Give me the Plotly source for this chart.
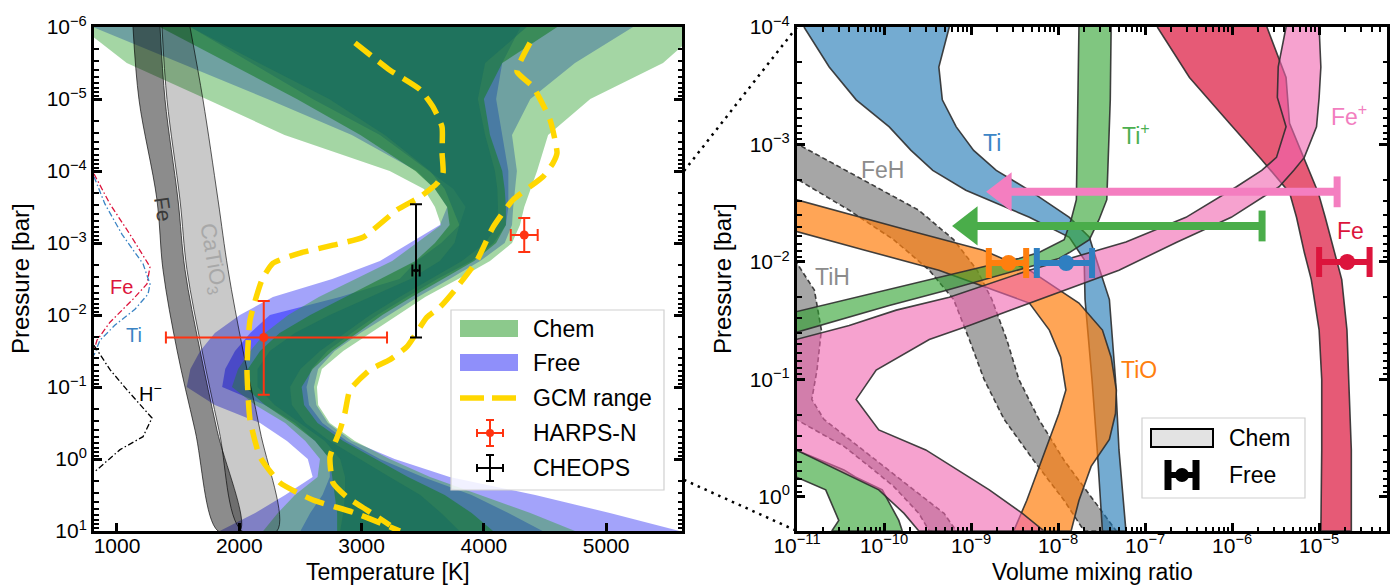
import math
import plotly.graph_objects as go

W, H = 1397, 587
TOP, BOT = 27, 531
FONT = "Liberation Sans, Arial, Helvetica, sans-serif"

# ======================= LEFT PANEL DATA (T in K, log10 P in bar) =======================
logp_grid = [-6, -5.5, -5, -4.5, -4, -3.75, -3.5, -3.25, -3, -2.75, -2.5, -2.25, -2,
             -1.75, -1.5, -1.25, -1, -0.75, -0.5, -0.25, 0, 0.25, 0.5, 0.75, 1]

chem3_lo = [700, 1080, 1730, 2370, 3230, 3510, 3600, 3650, 3450, 3250, 2950, 2650, 2400,
            2210, 2090, 1990, 1940, 2130, 2375, 2540, 2660, 2640, 2455, 2315, 2195]
chem3_hi = [5800, 5465, 4870, 4525, 4435, 4380, 4330, 4295, 4230, 4050, 3790, 3520, 3300,
            3070, 2850, 2675, 2635, 2645, 2740, 2945, 3230, 3560, 3970, 4380, 4745]
chem2_lo = [1350, 1910, 2470, 2990, 3440, 3600, 3700, 3720, 3600, 3440, 3150, 2865, 2580,
            2330, 2170, 2070, 2045, 2210, 2430, 2620, 2740, 2760, 2780, 2800, 2800]
chem2_hi = [4600, 4150, 4000, 4050, 4150, 4170, 4180, 4180, 4100, 3920, 3660, 3410, 3170,
            2960, 2760, 2600, 2510, 2530, 2640, 2850, 3110, 3380, 3680, 3900, 4075]
chem1_lo = [1600, 2160, 2735, 3190, 3560, 3680, 3740, 3800, 3760, 3640, 3400, 3070, 2740,
            2455, 2250, 2150, 2150, 2290, 2500, 2700, 2825, 2865, 2865, 2850, 2825]
chem1_hi = [4350, 4010, 3950, 4010, 4090, 4110, 4115, 4110, 4010, 3820, 3560, 3310, 3070,
            2865, 2660, 2500, 2415, 2430, 2540, 2740, 2990, 3230, 3480, 3650, 3800]
free3_lo = [800, 1510, 2230, 2920, 3450, 3600, 3700, 3640, 3400, 3150, 2760, 2275, 2005,
            1800, 1680, 1600, 1570, 1800, 2170, 2390, 2560, 2600, 2375, 2130, 1840]
free3_hi = [5220, 4745, 4380, 4230, 4270, 4255, 4240, 4230, 4170, 3970, 3720, 3460, 3230,
            2990, 2780, 2645, 2610, 2630, 2725, 2920, 3270, 3720, 4420, 5030, 5600]
free2_lo = [1600, 2100, 2600, 3150, 3550, 3750, 3850, 3800, 3650, 3450, 3310, 2823, 2250,
            2090, 1965, 1885, 1860, 2210, 2455, 2620, 2740, 2740, 2680, 2580, 2500]
free2_hi = [4300, 4150, 4100, 4150, 4200, 4200, 4200, 4180, 4080, 3900, 3620, 3370, 3130,
            2920, 2720, 2590, 2550, 2570, 2680, 2880, 3150, 3500, 3900, 4200, 4480]

gcm_a_T = [2946, 3232, 3478, 3584, 3658, 3658, 3666, 3617, 3478, 3290, 3012, 2766, 2496,
           2276, 2186, 2088, 2063, 2088, 2169, 2333, 2603, 2930, 3314]
gcm_a_logp = [-5.78, -5.40, -5.13, -4.89, -4.61, -4.25, -3.97, -3.83, -3.64, -3.46, -3.08,
              -2.97, -2.86, -2.72, -2.49, -1.93, -1.24, -0.54, -0.03, 0.33, 0.57, 0.74, 1.0]
gcm_b_T = [4377, 4271, 4402, 4541, 4598, 4565, 4483, 4238, 4075, 3944, 3764, 3641, 3535,
           3371, 3232, 3069, 2905, 2864, 2823, 2742, 2766, 2881, 3044, 3232]
gcm_b_logp = [-5.78, -5.38, -5.17, -4.71, -4.25, -4.11, -3.92, -3.60, -3.22, -2.76, -2.35,
              -2.11, -1.97, -1.56, -1.38, -1.24, -0.96, -0.64, -0.40, -0.03, 0.33, 0.53, 0.71, 0.92]

cond_logp = [-6, -4.99, -3.60, -2.63, -1.51, -0.40, 1.0]
fe_cond_lo = [1131, 1180, 1327, 1376, 1491, 1638, 1826]
fe_cond_hi = [1352, 1393, 1499, 1556, 1679, 1818, 2006]
catio3_lo = [1368, 1409, 1515, 1572, 1695, 1834, 2022]
catio3_hi = [1597, 1703, 1826, 1908, 2030, 2169, 2308]

cf_fe_T = [812, 943, 1106, 1270, 1245, 1131, 943, 836, 812]
cf_fe_logp = [-3.96, -3.54, -3.12, -2.67, -2.43, -2.22, -1.90, -1.65, -1.51]
cf_ti_T = [812, 902, 1041, 1213, 1270, 1254, 1147, 984, 861, 812]
cf_ti_logp = [-3.92, -3.54, -3.12, -2.71, -2.43, -2.29, -2.08, -1.86, -1.65, -1.44]
cf_hm_T = [812, 943, 1082, 1286, 1213, 1025, 836, 812]
cf_hm_logp = [-1.58, -1.24, -0.96, -0.57, -0.31, -0.13, 0.15, 0.18]

harps_T = [2200, 4330]
harps_T_minus = [800, 110]
harps_T_plus = [1008, 110]
harps_P = [2.05e-2, 7.75e-4]
harps_P_low = [6.4e-3, 4.5e-4]
harps_P_high = [0.128, 1.33e-3]
cheops_T = [3445]
cheops_T_err = [30]
cheops_P = [2.4e-3]
cheops_P_low = [2.9e-4]
cheops_P_high = [2.05e-2]

left_xticks = [1000, 2000, 3000, 4000, 5000]
left_yticks = [1e-6, 1e-5, 1e-4, 1e-3, 1e-2, 1e-1, 1e0, 1e1]
left_yticklabels = ["10<sup>−6</sup>", "10<sup>−5</sup>", "10<sup>−4</sup>", "10<sup>−3</sup>",
                    "10<sup>−2</sup>", "10<sup>−1</sup>", "10<sup>0</sup>", "10<sup>1</sup>"]

# ======================= RIGHT PANEL DATA (log10 VMR, log10 P) =======================
ti_logp = [-4.0, -3.66, -3.38, -3.15, -2.95, -2.78, -2.61, -2.38, -2.21, -2.02, -1.68, -1.0, -0.40, 0.29]
ti_lo = [-10.92, -10.63, -10.32, -9.94, -9.69, -9.44, -9.06, -8.33, -7.87, -7.70, -7.69, -7.61, -7.55, -7.49]
ti_hi = [-9.25, -9.37, -9.33, -9.17, -8.97, -8.71, -8.33, -7.87, -7.64, -7.56, -7.41, -7.34, -7.30, -7.22]

tip_logp = [-4.0, -3.38, -2.53, -2.36, -2.19, -2.08, -2.03, -1.96, -1.85, -1.76, -1.63, -1.57,
            -1.40, -1.29, -0.49, -0.40, -0.23, -0.17, -0.06, 0.20, 0.29]
tip_lo = [-7.76, -7.77, -7.79, -7.85, -7.93, -8.22, -8.45, -8.86, -9.47, -9.94, -10.69, -11.01,
          -12, -12, -12, -12, -12, -11.01, -10.67, -10.52, -10.60]
tip_hi = [-7.39, -7.40, -7.44, -7.53, -7.64, -7.87, -7.99, -8.33, -8.86, -9.28, -9.94, -10.23,
          -11.01, -12, -12, -11.01, -10.46, -10.33, -10.02, -9.83, -9.79]

fe_logp = [-4.0, -3.57, -3.18, -2.87, -2.59, -2.38, -2.08, -1.85, -1.42, -1.0, -0.40, 0.29]
fe_lo = [-6.86, -6.49, -6.03, -5.66, -5.34, -5.26, -5.17, -5.09, -5.0, -4.97, -4.97, -4.98]
fe_hi = [-5.60, -5.38, -5.34, -5.17, -5.01, -4.93, -4.82, -4.74, -4.68, -4.66, -4.63, -4.63]

fep_logp = [-4.0, -3.66, -3.40, -3.15, -2.89, -2.78, -2.64, -2.38, -2.17, -1.93, -1.70, -1.59,
            -1.46, -1.34, -1.08, -0.83, -0.57, -0.40, -0.06, 0.14, 0.29]
fep_lo = [-5.38, -5.47, -5.48, -5.38, -5.49, -5.66, -5.95, -6.53, -7.22, -8.33, -9.25, -9.86,
          -10.40, -11.01, -12, -12, -12, -11.01, -10.06, -9.77, -9.60]
fep_hi = [-5.0, -4.98, -5.0, -5.03, -5.17, -5.29, -5.46, -6.01, -6.63, -7.30, -8.15, -8.55,
          -9.02, -9.48, -10.09, -10.32, -10.06, -9.52, -8.79, -8.41, -8.16]

tio_logp = [-2.53, -2.26, -2.10, -1.93, -1.65, -1.42, -1.19, -0.91, -0.71, -0.49, -0.26, 0.03, 0.29]
tio_lo = [-12, -11.01, -10.22, -9.37, -8.33, -8.10, -7.97, -7.91, -7.99, -8.10, -8.22, -8.36, -8.51]
tio_hi = [-11.01, -9.67, -8.86, -8.33, -7.76, -7.49, -7.39, -7.33, -7.34, -7.41, -7.62, -7.76, -7.85]

feh_logp = [-3.01, -2.71, -2.44, -2.19, -1.93, -1.68, -1.34, -1.0, -0.66, -0.31, 0.03, 0.29]
feh_lo = [-12, -11.01, -10.40, -9.89, -9.48, -9.20, -9.02, -8.85, -8.62, -8.28, -7.93, -7.70]
feh_hi = [-11.01, -10.26, -9.60, -9.20, -8.93, -8.76, -8.59, -8.45, -8.22, -7.93, -7.59, -7.33]

tih_logp = [-2.0, -1.76, -1.42, -1.08, -0.83, -0.66, -0.43, -0.26, -0.09, 0.14, 0.29]
tih_lo = [-12, -12, -12, -12, -12, -11.01, -10.46, -10.17, -9.89, -9.60, -9.48]
tih_hi = [-11.01, -10.80, -10.72, -10.77, -10.83, -10.69, -10.29, -10.0, -9.71, -9.31, -9.17]

free_species = ["TiO", "Ti", "Fe"]
free_vmr = [2.7e-9, 1.24e-8, 2.1e-5]
free_vmr_low = [1.6e-9, 5.7e-9, 1.0e-5]
free_vmr_high = [4.3e-9, 2.46e-8, 3.8e-5]
free_P = [1.02e-2, 1.02e-2, 1.0e-2]
free_colors = ["#ff7f0e", "#2f7fc1", "#dc143c"]

limit_species = ["Ti+", "Fe+"]
limit_vmr_upper = [2.21e-6, 1.61e-5]
limit_vmr_tip = [6.05e-10, 1.49e-9]
limit_P = [4.94e-3, 2.53e-3]
limit_colors = ["#4aad4a", "#f47ec0"]

right_xticks = [1e-11, 1e-10, 1e-9, 1e-8, 1e-7, 1e-6, 1e-5]
right_xticklabels = ["10<sup>−11</sup>", "10<sup>−10</sup>", "10<sup>−9</sup>", "10<sup>−8</sup>",
                     "10<sup>−7</sup>", "10<sup>−6</sup>", "10<sup>−5</sup>"]
right_yticks = [1e-4, 1e-3, 1e-2, 1e-1, 1e0]
right_yticklabels = ["10<sup>−4</sup>", "10<sup>−3</sup>", "10<sup>−2</sup>", "10<sup>−1</sup>", "10<sup>0</sup>"]

LEFT_X_RANGE = [812, 5620]
LEFT_LOGP_RANGE = [1, -6]
RIGHT_LOGX_RANGE = [-11, -4.22]
RIGHT_LOGP_RANGE = [0.29, -4]

# ======================= helpers =======================
def X(px):
    return px / W


def Y(py):
    return 1 - (py - TOP) / (BOT - TOP)


def pw(vals):
    return [10 ** v for v in vals]


fig = go.Figure()


def add_band(lo, hi, logp, fill, xa, ya, line=None, log_x=False):
    xs_lo = pw(lo) if log_x else list(lo)
    xs_hi = pw(hi) if log_x else list(hi)
    ys = pw(logp)
    fig.add_trace(go.Scatter(
        x=xs_lo + xs_hi[::-1], y=ys + ys[::-1], mode="lines", fill="toself",
        fillcolor=fill, line=line or dict(width=0, color="rgba(0,0,0,0)"),
        hoverinfo="skip", xaxis=xa, yaxis=ya))


# ---------------- left panel ----------------
add_band(free3_lo, free3_hi, logp_grid, "rgba(50,50,245,0.45)", "x", "y")
add_band(free2_lo, free2_hi, logp_grid, "rgba(50,50,255,0.6)", "x", "y")
add_band(chem3_lo, chem3_hi, logp_grid, "rgba(44,160,44,0.43)", "x", "y")
add_band(chem2_lo, chem2_hi, logp_grid, "rgba(23,125,42,0.6)", "x", "y")
add_band(chem1_lo, chem1_hi, logp_grid, "rgba(20,105,95,0.5)", "x", "y")

add_band(fe_cond_lo, fe_cond_hi, cond_logp, "rgba(0,0,0,0.45)", "x", "y",
         line=dict(width=0.8, color="rgba(0,0,0,0.8)", shape="spline"))
add_band(catio3_lo, catio3_hi, cond_logp, "rgba(0,0,0,0.21)", "x", "y",
         line=dict(width=0.8, color="rgba(0,0,0,0.8)", shape="spline"))

for T, lp, col in [(cf_fe_T, cf_fe_logp, "#dc143c"), (cf_ti_T, cf_ti_logp, "#3b84c4"),
                   (cf_hm_T, cf_hm_logp, "black")]:
    fig.add_trace(go.Scatter(x=T, y=pw(lp), mode="lines", hoverinfo="skip",
                             line=dict(color=col, width=1.3, dash="6px,2.5px,1.5px,2.5px"),
                             xaxis="x", yaxis="y"))

for T, lp in [(gcm_a_T, gcm_a_logp), (gcm_b_T, gcm_b_logp)]:
    fig.add_trace(go.Scatter(x=T, y=pw(lp), mode="lines", hoverinfo="skip",
                             line=dict(color="#ffd700", width=5.5, dash="20px,10px",
                                       shape="spline", smoothing=0.5),
                             xaxis="x", yaxis="y"))

fig.add_trace(go.Scatter(
    x=harps_T, y=harps_P, mode="markers", hoverinfo="skip",
    marker=dict(color="#ff3311", size=9),
    error_x=dict(type="data", symmetric=False, array=harps_T_plus, arrayminus=harps_T_minus,
                 color="#ff3311", thickness=2, width=6),
    error_y=dict(type="data", symmetric=False,
                 array=[h - p for h, p in zip(harps_P_high, harps_P)],
                 arrayminus=[p - l for p, l in zip(harps_P, harps_P_low)],
                 color="#ff3311", thickness=2, width=6),
    xaxis="x", yaxis="y"))
fig.add_trace(go.Scatter(
    x=cheops_T, y=cheops_P, mode="markers", hoverinfo="skip",
    marker=dict(color="black", size=4),
    error_x=dict(type="data", array=cheops_T_err, color="black", thickness=2, width=6),
    error_y=dict(type="data", symmetric=False,
                 array=[h - p for h, p in zip(cheops_P_high, cheops_P)],
                 arrayminus=[p - l for p, l in zip(cheops_P, cheops_P_low)],
                 color="black", thickness=2, width=6),
    xaxis="x", yaxis="y"))

# ---------------- right panel ----------------
EDGE = dict(width=1.6, color="rgba(45,45,45,0.9)")
EDGE_D = dict(width=1.6, color="rgba(45,45,45,0.9)", dash="5px,3px")
add_band(feh_lo, feh_hi, feh_logp, "rgba(128,128,128,0.7)", "x2", "y2", line=EDGE_D, log_x=True)
add_band(tih_lo, tih_hi, tih_logp, "rgba(128,128,128,0.7)", "x2", "y2", line=EDGE_D, log_x=True)
add_band(ti_lo, ti_hi, ti_logp, "rgba(31,119,180,0.62)", "x2", "y2", line=EDGE, log_x=True)
add_band(tio_lo, tio_hi, tio_logp, "rgba(255,127,14,0.7)", "x2", "y2", line=EDGE, log_x=True)
add_band(tip_lo, tip_hi, tip_logp, "rgba(44,160,44,0.6)", "x2", "y2", line=EDGE, log_x=True)
add_band(fe_lo, fe_hi, fe_logp, "rgba(220,20,60,0.7)", "x2", "y2", line=EDGE, log_x=True)
add_band(fep_lo, fep_hi, fep_logp, "rgba(240,100,175,0.6)", "x2", "y2", line=EDGE, log_x=True)

for v, lo, hi, p, c in zip(free_vmr, free_vmr_low, free_vmr_high, free_P, free_colors):
    fig.add_trace(go.Scatter(
        x=[v], y=[p], mode="markers", hoverinfo="skip", marker=dict(color=c, size=16),
        error_x=dict(type="data", symmetric=False, array=[hi - v], arrayminus=[v - lo],
                     color=c, thickness=6, width=15),
        xaxis="x2", yaxis="y2"))

PPD = (1387 - 797) / (RIGHT_LOGX_RANGE[1] - RIGHT_LOGX_RANGE[0])  # px per decade
HEAD = 34
for up, tip, p, c in zip(limit_vmr_upper, limit_vmr_tip, limit_P, limit_colors):
    head_c = 10 ** (math.log10(tip) + (HEAD / 2) / PPD)
    fig.add_trace(go.Scatter(x=[up, head_c], y=[p, p], mode="lines", hoverinfo="skip",
                             line=dict(color=c, width=8), xaxis="x2", yaxis="y2"))
    fig.add_trace(go.Scatter(x=[head_c], y=[p], mode="markers", hoverinfo="skip",
                             marker=dict(symbol="triangle-left", size=HEAD, color=c,
                                         line=dict(width=0)),
                             xaxis="x2", yaxis="y2"))
    fig.add_trace(go.Scatter(x=[up], y=[p], mode="markers", hoverinfo="skip",
                             marker=dict(symbol="line-ns-open", size=22, color=c,
                                         line=dict(width=7, color=c)),
                             xaxis="x2", yaxis="y2"))

# ======================= axes =======================
AX = dict(showgrid=False, zeroline=False, showline=True, linewidth=3, linecolor="black",
          ticks="inside", ticklen=8, tickwidth=2.5, tickcolor="black", automargin=False,
          tickfont=dict(size=21, family=FONT, color="black"))
MINOR = dict(ticks="inside", ticklen=4.5, tickwidth=1.5, tickcolor="black", showgrid=False)

left_minor = [m * 10.0 ** e for e in range(-6, 1) for m in range(2, 10)]
rx_minor = [m * 10.0 ** e for e in range(-11, -4) for m in range(2, 10)]
ry_minor = [m * 10.0 ** e for e in range(-4, 1) for m in range(2, 10)]

fig.update_layout(
    xaxis=dict(AX, domain=[X(94), X(682)], range=LEFT_X_RANGE, tickvals=left_xticks,
               mirror=True, anchor="y", ticklabelstandoff=-6),
    yaxis=dict(AX, type="log", domain=[0, 1], range=LEFT_LOGP_RANGE, tickvals=left_yticks,
               ticktext=left_yticklabels, mirror="allticks", anchor="x",
               minor=dict(MINOR, tickvals=left_minor)),
    xaxis2=dict(AX, type="log", domain=[X(797), X(1387)], range=RIGHT_LOGX_RANGE,
                tickvals=right_xticks, ticktext=right_xticklabels, mirror="allticks",
                anchor="y2", minor=dict(MINOR, tickvals=rx_minor), ticklabelstandoff=-6),
    yaxis2=dict(AX, type="log", domain=[0, 1], range=RIGHT_LOGP_RANGE, tickvals=right_yticks,
                ticktext=right_yticklabels, mirror="allticks", anchor="x2",
                minor=dict(MINOR, tickvals=ry_minor)),
    width=W, height=H, margin=dict(l=0, r=0, t=TOP, b=H - BOT, autoexpand=False),
    paper_bgcolor="white", plot_bgcolor="white", showlegend=False,
    font=dict(family=FONT, size=22, color="black"),
)

# ======================= shapes (legends, zoom lines) =======================
shapes = []


def left_py(P):
    lp = math.log10(P)
    return TOP + (lp - LEFT_LOGP_RANGE[1]) / (LEFT_LOGP_RANGE[0] - LEFT_LOGP_RANGE[1]) * (BOT - TOP)


zoom_top_P = 10 ** RIGHT_LOGP_RANGE[1]
zoom_bot_P = 10 ** RIGHT_LOGP_RANGE[0]
for P_left, py_right in [(zoom_top_P, TOP), (zoom_bot_P, BOT)]:
    shapes.append(dict(type="line", xref="paper", yref="paper", x0=X(684), y0=Y(left_py(P_left)),
                       x1=X(797), y1=Y(py_right), line=dict(color="black", width=2.5, dash="2.5px,5px"),
                       layer="above"))

# left legend
shapes.append(dict(type="rect", xref="paper", yref="paper", x0=X(451), x1=X(664), y0=Y(490), y1=Y(310),
                   line=dict(color="#d0d0d0", width=1.2), fillcolor="rgba(255,255,255,0.85)", layer="above"))
shapes.append(dict(type="rect", xref="paper", yref="paper", x0=X(460), x1=X(518), y0=Y(337), y1=Y(320),
                   line=dict(width=0), fillcolor="#8cc98c", layer="above"))
shapes.append(dict(type="rect", xref="paper", yref="paper", x0=X(460), x1=X(518), y0=Y(371), y1=Y(354),
                   line=dict(width=0), fillcolor="#8f8ffa", layer="above"))
shapes.append(dict(type="line", xref="paper", yref="paper", x0=X(460), x1=X(518), y0=Y(398), y1=Y(398),
                   line=dict(color="#ffd700", width=5.5, dash="24px,8px"), layer="above"))
for cy, col in [(433, "#ff3311"), (468, "black")]:
    for (x0, y0, x1, y1) in [(477, cy, 503, cy), (490, cy - 13, 490, cy + 13),
                             (477, cy - 4, 477, cy + 4), (503, cy - 4, 503, cy + 4),
                             (486, cy - 13, 494, cy - 13), (486, cy + 13, 494, cy + 13)]:
        shapes.append(dict(type="line", xref="paper", yref="paper", x0=X(x0), y0=Y(y0), x1=X(x1), y1=Y(y1),
                           line=dict(color=col, width=2), layer="above"))
shapes.append(dict(type="circle", xref="paper", yref="paper", x0=X(486), x1=X(494), y0=Y(437), y1=Y(429),
                   line=dict(width=0), fillcolor="#ff3311", layer="above"))

# right legend
shapes.append(dict(type="rect", xref="paper", yref="paper", x0=X(1142), x1=X(1305), y0=Y(498), y1=Y(418),
                   line=dict(color="#d0d0d0", width=1.2), fillcolor="rgba(255,255,255,0.85)", layer="above"))
shapes.append(dict(type="rect", xref="paper", yref="paper", x0=X(1151), x1=X(1213), y0=Y(447), y1=Y(429),
                   line=dict(color="black", width=2), fillcolor="#e3e3e3", layer="above"))
for (x0, y0, x1, y1, w) in [(1168, 475, 1196, 475, 6), (1168, 460, 1168, 490, 7), (1196, 460, 1196, 490, 7)]:
    shapes.append(dict(type="line", xref="paper", yref="paper", x0=X(x0), y0=Y(y0), x1=X(x1), y1=Y(y1),
                       line=dict(color="black", width=w), layer="above"))
shapes.append(dict(type="circle", xref="paper", yref="paper", x0=X(1175), x1=X(1189), y0=Y(482), y1=Y(468),
                   line=dict(width=0), fillcolor="black", layer="above"))
fig.update_layout(shapes=shapes)

# ======================= annotations =======================
ann = []


def txt(text, x, y, size=22, color="black", xref="paper", yref="paper", angle=0, xanchor="center",
        yanchor="middle"):
    ann.append(dict(text=text, x=x, y=y, xref=xref, yref=yref, showarrow=False, textangle=angle,
                    xanchor=xanchor, yanchor=yanchor, font=dict(size=size, color=color, family=FONT)))


txt("Temperature [K]", X(388), Y(572), size=23)
txt("Volume mixing ratio", X(1092), Y(572), size=23)
txt("Pressure [bar]", X(20), Y(279), size=24, angle=-90)
txt("Pressure [bar]", X(722), Y(279), size=24, angle=-90)

for label, cy in [("Chem", 329), ("Free", 363), ("GCM range", 398), ("HARPS-N", 433), ("CHEOPS", 468)]:
    txt(label, X(531), Y(cy), size=23, xanchor="left")
txt("Chem", X(1227), Y(438), size=23, xanchor="left")
txt("Free", X(1227), Y(475), size=23, xanchor="left")

txt("Fe", 1376, -3.46, size=21, color="#3a3a3a", xref="x", yref="y", angle=82)
txt("CaTiO<sub>3</sub>", 1777, -2.79, size=22, color="#a8a8a8", xref="x", yref="y", angle=80)
txt("Fe", 1033, -2.39, size=20, color="#dc143c", xref="x", yref="y")
txt("Ti", 1139, -1.72, size=20, color="#3b84c4", xref="x", yref="y")
txt("H<sup>−</sup>", 1275, -0.93, size=20, color="black", xref="x", yref="y")

txt("Ti", -8.76, -3.01, size=23, color="#3d86c6", xref="x2", yref="y2")
txt("Ti<sup>+</sup>", -7.10, -3.09, size=23, color="#4caf50", xref="x2", yref="y2")
txt("Fe<sup>+</sup>", -4.66, -3.25, size=23, color="#f27ec0", xref="x2", yref="y2")
txt("Fe", -4.64, -2.26, size=23, color="#dc143c", xref="x2", yref="y2")
txt("FeH", -10.02, -2.78, size=23, color="#8c8c8c", xref="x2", yref="y2")
txt("TiH", -10.59, -1.87, size=23, color="#8c8c8c", xref="x2", yref="y2")
txt("TiO", -7.07, -1.08, size=23, color="#ff7f0e", xref="x2", yref="y2")

fig.update_layout(annotations=ann)
fig.write_html("out.html")
